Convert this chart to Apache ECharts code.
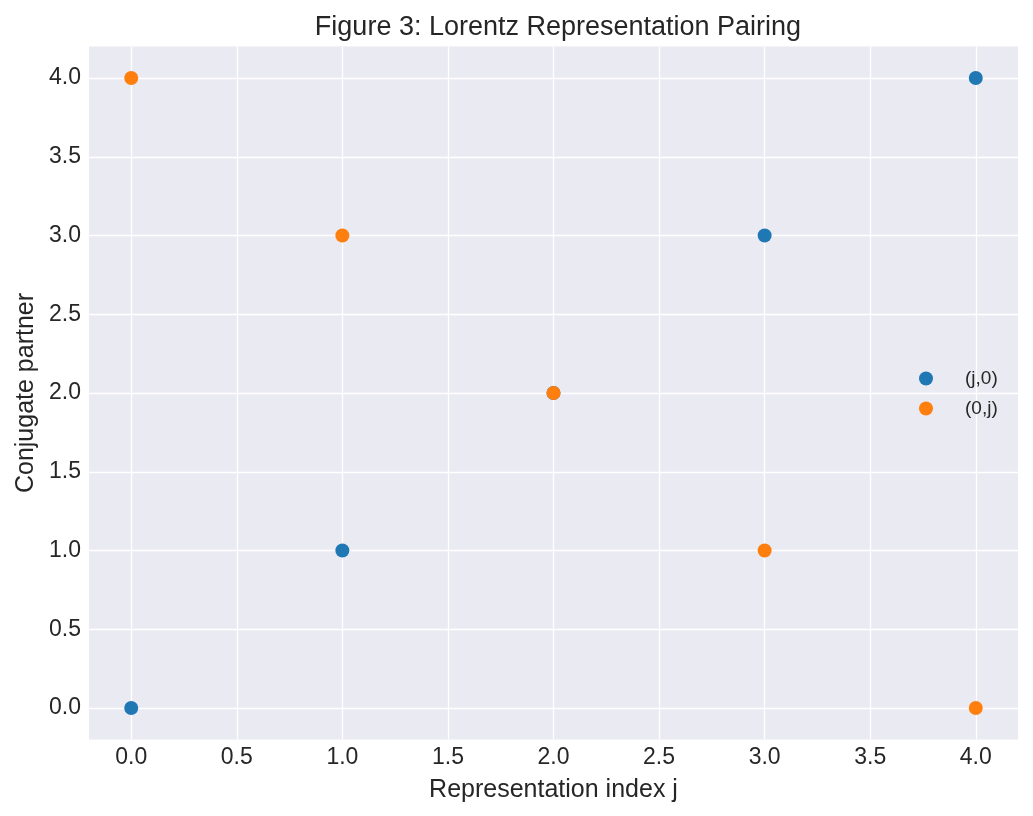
<!DOCTYPE html>
<html>
<head>
<meta charset="utf-8">
<script src="https://cdn.jsdelivr.net/npm/echarts@6/dist/echarts.min.js"></script>
<style>
  html, body { margin: 0; padding: 0; background: #fff; }
  #chart { width: 1033px; height: 816px; }
</style>
</head>
<body>
<div id="chart"></div>
<script>
// representation index j and the conjugate partner of each rep
var jValues = [0, 1, 2, 3, 4];
var jZero = [0, 1, 2, 3, 4];     // (j,0)
var zeroJ = [4, 3, 2, 1, 0];     // (0,j)
var seriesNames = ['(j,0)', '(0,j)'];
var tickValues = [0, 0.5, 1, 1.5, 2, 2.5, 3, 3.5, 4];

function pairs(xs, ys){
    return xs.map(function(x, i){ return [x, ys[i]]; });
}

var font = 'Liberation Sans, Arial, sans-serif';
var textColor = '#262626';

var chart = echarts.init(document.getElementById('chart'));

function axis(name, gap, margin){
    return {
        type: 'value',
        min: -0.2,
        max: 4.2,
        name: name,
        nameLocation: 'middle',
        nameGap: gap,
        nameTextStyle: { fontFamily: font, fontSize: 25, color: textColor },
        axisLine: { show: false },
        axisTick: { show: false, customValues: tickValues },
        axisLabel: {
            fontFamily: font, fontSize: 23, color: textColor, margin: margin,
            customValues: tickValues,
            formatter: function(v){ return v.toFixed(1); }
        },
        splitLine: { show: true, lineStyle: { color: '#ffffff', width: 1.3 } }
    };
}

chart.setOption({
    animation: false,
    title: {
        text: 'Figure 3: Lorentz Representation Pairing',
        left: 553, top: 9, textAlign: 'center',
        textStyle: { fontFamily: font, fontSize: 27, fontWeight: 'normal', color: textColor }
    },
    grid: {
        left: 89, right: 15, top: 46.5, bottom: 76.5,
        show: true, backgroundColor: '#EAEAF2', borderWidth: 0
    },
    legend: {
        orient: 'vertical',
        left: 914, top: 364,
        itemWidth: 14, itemHeight: 14, itemGap: 11,
        icon: 'circle',
        textStyle: { fontFamily: font, fontSize: 19, color: textColor, padding: [0, 0, 0, 27] },
        data: seriesNames
    },
    xAxis: axis('Representation index j', 38, 7),
    yAxis: axis('Conjugate partner', 50, 8),
    series: [
        {
            name: seriesNames[0], type: 'scatter', symbolSize: 14,
            itemStyle: { color: '#1f77b4', opacity: 1 },
            data: pairs(jValues, jZero)
        },
        {
            name: seriesNames[1], type: 'scatter', symbolSize: 14,
            itemStyle: { color: '#ff7f0e', opacity: 1 },
            data: pairs(jValues, zeroJ)
        }
    ]
});
</script>
</body>
</html>
